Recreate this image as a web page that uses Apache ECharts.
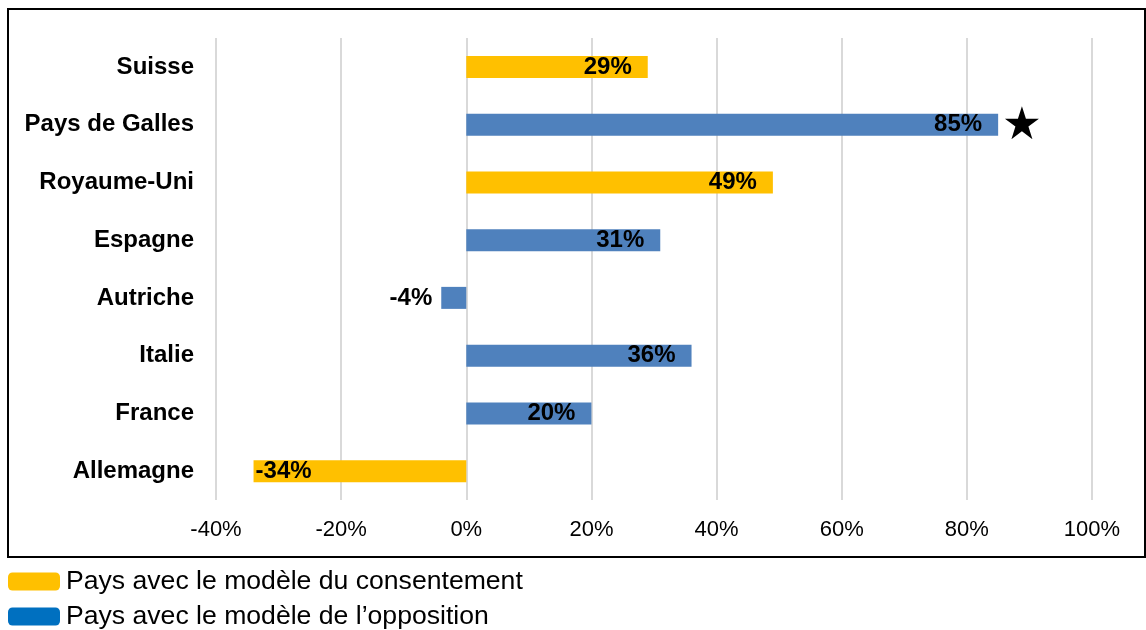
<!DOCTYPE html>
<html>
<head>
<meta charset="utf-8">
<script src="https://cdn.jsdelivr.net/npm/echarts@6/dist/echarts.min.js"></script>
<style>
html,body{margin:0;padding:0;background:#fff;}
#chart{width:1146px;height:630px;}
</style>
</head>
<body>
<div id="chart"></div>
<script>
const categories = ['Suisse','Pays de Galles','Royaume-Uni','Espagne','Autriche','Italie','France','Allemagne'];
const consentValues = [29, null, 49, null, null, null, null, -34];
const oppositionValues = [null, 85, null, 31, -4, 36, 20, null];
const seriesNames = ['Pays avec le modèle du consentement', 'Pays avec le modèle de l\u2019opposition'];
const xTicks = {min: -40, max: 100, interval: 20};
const starCountry = 'Pays de Galles';
const starValue = 88.8;

const labelFont = {fontFamily: 'Liberation Sans', fontWeight: 'bold', fontSize: 24, color: '#000'};

function buildData(values) {
  return values.map(v => {
    if (v === null) return '-';
    let label;
    if (v >= 0) label = {position: 'insideRight', distance: 16};
    else if (v > -10) label = {position: 'left', distance: 9};
    else label = {position: 'insideLeft', distance: 2};
    return {value: v, label: label};
  });
}

const starPath = 'path://M50,0 L61.2,34.5 L97.6,34.5 L68.2,55.9 L79.4,90.5 L50,69.1 L20.6,90.5 L31.8,55.9 L2.4,34.5 L38.8,34.5 Z';

const legendBase = {
  left: 8, padding: 0, itemWidth: 52, itemHeight: 18, icon: 'roundRect', itemGap: 0,
  textStyle: {fontFamily: 'Liberation Sans', fontSize: 26.6, color: '#000', padding: [0,0,0,1]}
};

const chart = echarts.init(document.getElementById('chart'));
chart.setOption({
  animation: false,
  backgroundColor: '#fff',
  textStyle: {fontFamily: 'Liberation Sans'},
  grid: {left: 216, right: 54, top: 38, bottom: 130, containLabel: false},
  graphic: [{
    type: 'rect', silent: true, z: 100,
    shape: {x: 8, y: 9, width: 1137, height: 548},
    style: {fill: 'none', stroke: '#000', lineWidth: 2}
  }],
  legend: [
    Object.assign({}, legendBase, {top: 568, data: [{name: seriesNames[0], itemStyle: {color: '#FFC000'}}]}),
    Object.assign({}, legendBase, {top: 603, data: [{name: seriesNames[1], itemStyle: {color: '#0070C0'}}]})
  ],
  xAxis: {
    type: 'value', min: xTicks.min, max: xTicks.max, interval: xTicks.interval,
    axisLine: {show: false}, axisTick: {show: false},
    axisLabel: {formatter: '{value}%', fontFamily: 'Liberation Sans', fontSize: 22, color: '#000', margin: 19},
    splitLine: {lineStyle: {color: '#d9d9d9', width: 2}}
  },
  yAxis: {
    type: 'category', inverse: true, data: categories,
    axisLine: {show: false}, axisTick: {show: false},
    axisLabel: {fontFamily: 'Liberation Sans', fontWeight: 'bold', fontSize: 24, color: '#000', margin: 22}
  },
  series: [
    {
      name: seriesNames[0], type: 'bar', barWidth: 22, barGap: '-100%',
      itemStyle: {color: '#FFC000'},
      label: Object.assign({show: true, formatter: '{c}%'}, labelFont),
      data: buildData(consentValues)
    },
    {
      name: seriesNames[1], type: 'bar', barWidth: 22, barGap: '-100%',
      itemStyle: {color: '#4F81BD'},
      label: Object.assign({show: true, formatter: '{c}%'}, labelFont),
      data: buildData(oppositionValues),
      markPoint: {
        symbol: starPath, symbolSize: [34, 33], symbolOffset: [0, -2],
        itemStyle: {color: '#000'}, label: {show: false},
        data: [{coord: [starValue, starCountry]}]
      }
    }
  ]
});
</script>
</body>
</html>
